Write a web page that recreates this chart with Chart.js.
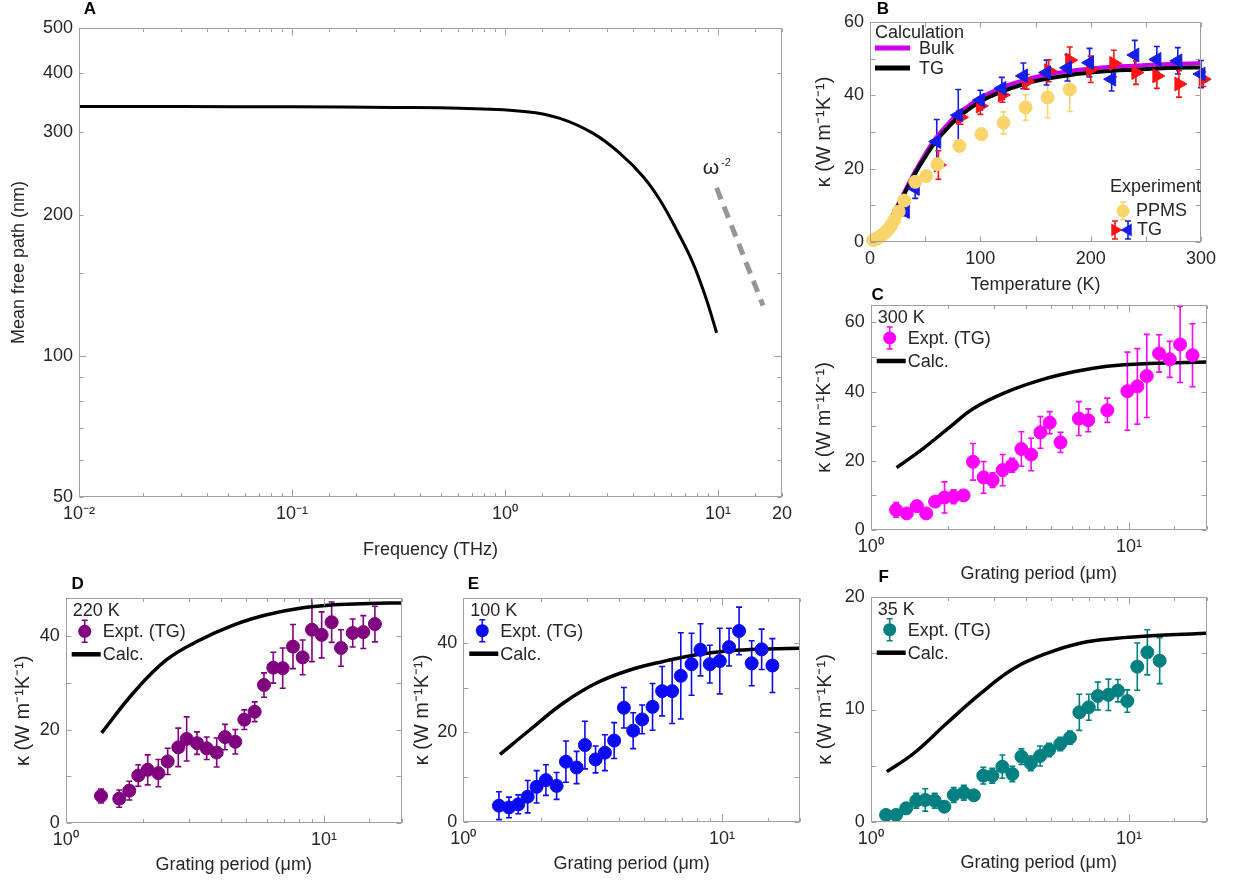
<!DOCTYPE html>
<html>
<head>
<meta charset="utf-8">
<script src="https://cdn.jsdelivr.net/npm/chart.js@4/dist/chart.umd.min.js"></script>
<style>
  body { margin: 0; background: #fff; width: 1233px; height: 886px; position: relative; overflow: hidden; }
  canvas { position: absolute; }
</style>
</head>
<body>
<canvas id="pA"></canvas>
<canvas id="pB"></canvas>
<canvas id="pC"></canvas>
<canvas id="pD"></canvas>
<canvas id="pE"></canvas>
<canvas id="pF"></canvas>
<script>
// ---- Panel A: mean free path vs frequency
const freqA = [0.01, 0.03, 0.1, 0.3, 0.615, 1.264, 1.813, 2.598, 3.467, 4.461, 5.343, 6.401, 7.656, 8.85, 9.86];
const mfpA  = [340, 340, 339.5, 338.5, 337, 331.6, 320.9, 298, 270.2, 240.9, 214.9, 185.5, 157.3, 131.5, 112];
const slopeFreq = [9.86, 16.3];
const slopeMfp  = [228, 128];

// ---- Panel B: kappa vs temperature
const tCalc = [20, 25, 30, 40, 50, 60, 70, 80, 100, 120, 140, 160, 180, 200, 220, 240, 260, 280, 300];
const kBulk = [7, 10, 13, 18.8, 24, 28.5, 32, 35, 39.3, 42.2, 44.2, 45.6, 46.6, 47.3, 47.8, 48.1, 48.4, 48.6, 48.8];
const kTGcalc = [6.8, 9.6, 12.5, 18.2, 23.2, 27.6, 31, 34, 38.3, 41.1, 43.1, 44.5, 45.5, 46.2, 46.7, 47.0, 47.3, 47.5, 47.6];
const tPPMS = [3, 5, 7, 9, 11, 13, 15, 17, 19, 22, 26, 31, 41, 51, 61, 81, 101, 121, 141, 161, 181];
const kPPMS = [0.5, 0.8, 1.1, 1.5, 1.9, 2.4, 3.0, 3.6, 4.5, 6.0, 8.3, 11.3, 16.4, 18.0, 21.2, 26.2, 29.4, 32.5, 36.7, 39.4, 41.6];
const ePPMS = [0.2, 0.2, 0.2, 0.2, 0.2, 0.2, 0.2, 0.2, 0.2, 0.3, 0.4, 0.5, 0.7, 0.5, 1.0, 0.5, 1.6, 3.0, 3.5, 5.5, 6.0];
const tBlue = [32, 41, 60.5, 80, 100, 119.5, 139, 160, 179, 199, 219, 240, 260, 279, 300];
const kBlue = [8.3, 14.6, 27.4, 34.6, 38.7, 41.9, 45.3, 46.2, 47.5, 48.9, 44.4, 51, 49.8, 49.4, 45.8];
const eBlue = [1.1, 2.7, 6, 7, 2.7, 3, 3.5, 3.4, 3.6, 3.9, 3.2, 4, 3.5, 3.6, 3.7];
const tRed = [62, 82, 100, 120, 142, 162, 181, 200, 221, 241, 260, 280, 302];
const kRed = [21, 34, 37.1, 40.1, 43.7, 46.7, 49.6, 47.1, 48.7, 46.2, 45.3, 43.1, 44.4];
const eRed = [3.9, 1.9, 2.3, 2, 2, 3, 3.6, 3.6, 3.6, 3.2, 3.4, 3.6, 2];

// ---- Panels C-F: kappa vs grating period
const xC = [1.254, 1.379, 1.509, 1.640, 1.776, 1.931, 2.093, 2.289, 2.489, 2.736, 2.965, 3.243, 3.526, 3.832, 4.180, 4.541, 4.935, 5.431, 6.396, 6.957, 8.245, 9.86, 10.78, 11.72, 13.08, 14.39, 15.78, 17.62];
const yC = [5.8, 4.8, 6.9, 4.8, 8.2, 9.4, 9.6, 10.0, 19.7, 15.2, 14.4, 17.3, 18.7, 23.4, 21.8, 28.2, 31.0, 25.3, 32.2, 31.7, 34.6, 40.1, 41.5, 44.5, 51.0, 49.3, 53.6, 50.5];
const eC = [2.1, 0.5, 0.5, 0.5, 0.5, 4.5, 2.0, 0.5, 5.3, 4.6, 2.1, 4.5, 2.0, 5.0, 4.7, 4.6, 3.2, 2.9, 4.9, 3.3, 3.5, 11.3, 10.9, 12.0, 5.4, 5.2, 11.0, 9.1];
const calcXC = [1.26, 1.6, 2.03, 2.5, 3.37, 4.54, 6.12, 8.25, 12, 20];
const calcYC = [18, 23.6, 29.8, 35.1, 39.9, 43.3, 45.7, 47.3, 48.1, 48.5];

const xD = [1.370, 1.612, 1.763, 1.910, 2.077, 2.284, 2.483, 2.729, 2.940, 3.224, 3.515, 3.843, 4.138, 4.536, 4.916, 5.392, 5.858, 6.364, 6.921, 7.586, 8.27, 8.986, 9.797, 10.71, 11.64, 12.92, 14.2, 15.75];
const yD = [5.83, 5.26, 6.97, 10.2, 11.4, 10.7, 13.2, 16.2, 18.0, 17.1, 16.0, 15.1, 18.4, 17.4, 22.1, 23.8, 29.5, 33.2, 33.1, 37.7, 35.4, 41.3, 40.2, 42.9, 37.4, 40.6, 40.8, 42.5];
const eD = [1.5, 1.85, 2.0, 2.3, 3.2, 2.9, 2.8, 4.1, 4.7, 2.4, 2.4, 3.1, 2.7, 2.6, 2.1, 2.1, 2.6, 3.3, 4.3, 4.7, 3.7, 6.8, 4.9, 4.3, 3.9, 3.0, 3.5, 3.8];
const calcXD = [1.378, 1.827, 2.46, 3.31, 4.46, 6.0, 8.07, 10.9, 15, 20];
const calcYD = [19.3, 27.8, 34.9, 39.1, 42.3, 44.5, 45.9, 46.6, 46.9, 47];

const xE = [1.373, 1.501, 1.631, 1.773, 1.920, 2.086, 2.294, 2.492, 2.741, 2.951, 3.245, 3.525, 3.828, 4.174, 4.533, 4.910, 5.386, 5.866, 6.412, 6.925, 7.619, 8.25, 8.966, 9.797, 10.64, 11.63, 13.01, 14.22, 15.65];
const yE = [3.7, 3.3, 4.0, 5.7, 7.9, 9.4, 8.1, 13.5, 12.2, 17.2, 14.0, 15.5, 18.2, 25.5, 20.4, 22.9, 25.7, 29.2, 29.2, 32.6, 35.2, 38.4, 35.2, 35.9, 39.0, 42.6, 35.4, 38.5, 34.9];
const eE = [3.1, 2.3, 2.1, 3.6, 3.6, 3.4, 3.0, 4.6, 3.6, 5.3, 3.0, 4.0, 4.0, 4.5, 4.0, 3.2, 5.2, 5.5, 7.2, 9.6, 6.9, 5.8, 4.2, 7.3, 4.2, 5.3, 5.0, 4.5, 6.0];
const calcXE = [1.386, 1.81, 2.43, 3.27, 4.40, 5.92, 7.96, 10.7, 15, 20];
const calcYE = [15.1, 20.6, 26.5, 31.0, 33.9, 35.8, 37.3, 38.2, 38.6, 38.75];

const xF = [1.147, 1.254, 1.372, 1.501, 1.627, 1.769, 1.929, 2.097, 2.293, 2.508, 2.728, 2.957, 3.234, 3.537, 3.834, 4.168, 4.529, 4.909, 5.42, 5.91, 6.425, 6.989, 7.575, 8.329, 9.06, 9.85, 10.77, 11.78, 13.15];
const yF = [0.65, 0.65, 1.24, 1.92, 1.98, 1.92, 1.38, 2.42, 2.63, 2.39, 4.13, 4.13, 4.93, 4.28, 5.82, 5.23, 5.88, 6.41, 6.94, 7.5, 9.75, 10.2, 11.2, 11.3, 11.67, 10.75, 13.8, 15.07, 14.33];
const eF = [0.1, 0.1, 0.47, 0.66, 0.99, 0.66, 0.35, 0.65, 0.66, 0.44, 0.74, 0.66, 1.03, 0.69, 0.69, 0.65, 0.89, 0.59, 0.59, 0.58, 1.6, 1.15, 1.23, 1.39, 0.99, 0.99, 2.1, 2.0, 2.04];
const calcXF = [1.154, 1.465, 1.975, 2.66, 3.59, 4.84, 6.52, 8.79, 13.76, 20];
const calcYF = [4.49, 6.1, 8.8, 11.4, 13.65, 15.0, 15.9, 16.3, 16.6, 16.75];

// tick labels
const freqLabels = [[0.01, '10⁻²'], [0.1, '10⁻¹'], [1, '10⁰'], [10, '10¹'], [20, '20']];
const mfpLabels = [[50, '50'], [100, '100'], [200, '200'], [300, '300'], [400, '400'], [500, '500']];
const periodLabels = [[1, '10⁰'], [10, '10¹']];

const FONT = '"Liberation Sans", Arial, sans-serif';
const TXT = '#262626';
const AXIS = '#a0a0a0';
const KAPPA = 'κ (W m⁻¹K⁻¹)';
const PERIOD = 'Grating period (μm)';

Chart.defaults.font.family = FONT;
Chart.defaults.font.size = 18;
Chart.defaults.color = TXT;

const pts = (xs, ys) => xs.map((v, i) => ({ x: v, y: ys[i] }));

function fromList(list) {
  return v => {
    for (const [k, s] of list) if (Math.abs(v - k) < k * 1e-6) return s;
    return '';
  };
}

function isPow10(v) {
  const l = Math.log10(v);
  return Math.abs(l - Math.round(l)) < 1e-6;
}

function markers(xs, ys, errs, color, style, rot) {
  return {
    data: pts(xs, ys), errs: errs,
    borderColor: color, backgroundColor: color,
    pointBackgroundColor: color, pointBorderColor: color,
    pointStyle: style || 'circle', pointRotation: rot || 0,
    pointRadius: style === 'triangle' ? 8 : 6.5, pointBorderWidth: 1,
    showLine: false, clip: false
  };
}

// smooth calculated curves go through the line controller
function curve(xs, ys, color, width, dash) {
  return {
    type: 'line',
    data: pts(xs, ys), borderColor: color, borderWidth: width, borderDash: dash || [],
    pointRadius: 0, tension: 0.4, fill: false
  };
}

function errGlyph(ctx, x, y, col, shape, h) {
  ctx.strokeStyle = col; ctx.lineWidth = 1.6;
  ctx.beginPath();
  ctx.moveTo(x, y - h); ctx.lineTo(x, y + h);
  ctx.moveTo(x - 3, y - h); ctx.lineTo(x + 3, y - h);
  ctx.moveTo(x - 3, y + h); ctx.lineTo(x + 3, y + h);
  ctx.stroke();
  ctx.fillStyle = col;
  ctx.beginPath();
  if (shape === 'circle') {
    ctx.arc(x, y, 6.5, 0, 2 * Math.PI);
  } else {
    const d = shape === 'right' ? 1 : -1, r = 7.5;
    ctx.moveTo(x + d * r, y);
    ctx.lineTo(x - d * r / 2, y - r * 0.866);
    ctx.lineTo(x - d * r / 2, y + r * 0.866);
    ctx.closePath();
  }
  ctx.fill();
}

function seg(ctx, x1, x2, y, col, w) {
  ctx.strokeStyle = col; ctx.lineWidth = w;
  ctx.beginPath(); ctx.moveTo(x1, y); ctx.lineTo(x2, y); ctx.stroke();
}

function tgLegend(label, color) {
  return (ctx, chart) => {
    const a = chart.chartArea;
    ctx.font = '18px ' + FONT; ctx.fillStyle = TXT;
    ctx.textBaseline = 'middle'; ctx.textAlign = 'left';
    ctx.fillText(label, a.left + 7, a.top + 13);
    errGlyph(ctx, a.left + 19, a.top + 33, color, 'circle', 11);
    ctx.fillStyle = TXT;
    ctx.fillText('Expt. (TG)', a.left + 37, a.top + 34);
    seg(ctx, a.left + 6, a.left + 35, a.top + 56, '#000', 4.5);
    ctx.fillText('Calc.', a.left + 37, a.top + 57);
  };
}

const panels = {};

const framePlugin = {
  id: 'frame',
  beforeDatasetsDraw(chart) {
    const { ctx, chartArea: a, scales: { x, y } } = chart;
    ctx.save();
    ctx.beginPath();
    ctx.rect(a.left - 20, a.top, a.right - a.left + 40, a.bottom - a.top);
    ctx.clip();
    chart.data.datasets.forEach(ds => {
      if (!ds.errs) return;
      ctx.strokeStyle = ds.borderColor; ctx.lineWidth = 1.6;
      ds.data.forEach((p, i) => {
        const e = ds.errs[i];
        const px = x.getPixelForValue(p.x);
        const y1 = y.getPixelForValue(p.y - e), y2 = y.getPixelForValue(p.y + e);
        ctx.beginPath();
        ctx.moveTo(px, y1); ctx.lineTo(px, y2);
        ctx.moveTo(px - 3, y1); ctx.lineTo(px + 3, y1);
        ctx.moveTo(px - 3, y2); ctx.lineTo(px + 3, y2);
        ctx.stroke();
      });
    });
    ctx.restore();
  },
  afterDraw(chart) {
    const { ctx, chartArea: a, scales: { x, y } } = chart;
    const p = panels[chart.canvas.id];
    ctx.save();
    // axes box
    const l = Math.round(a.left) + 0.5, t = Math.round(a.top) + 0.5;
    const r = Math.round(a.right) - 0.5, b = Math.round(a.bottom) - 0.5;
    ctx.strokeStyle = AXIS; ctx.lineWidth = 1;
    ctx.strokeRect(l, t, r - l, b - t);
    // inward ticks on all four sides
    ctx.beginPath();
    x.ticks.forEach(tk => {
      const len = x.type === 'logarithmic' ? (isPow10(tk.value) ? 7 : 3.5) : 5;
      const px = Math.round(x.getPixelForValue(tk.value)) + 0.5;
      ctx.moveTo(px, b); ctx.lineTo(px, b - len);
      ctx.moveTo(px, t); ctx.lineTo(px, t + len);
    });
    y.ticks.forEach(tk => {
      const len = y.type === 'logarithmic' ? (isPow10(tk.value) ? 7 : 4) : 5;
      const py = Math.round(y.getPixelForValue(tk.value)) + 0.5;
      ctx.moveTo(l, py); ctx.lineTo(l + len, py);
      ctx.moveTo(r, py); ctx.lineTo(r - len, py);
    });
    ctx.stroke();
    if (p.extra) p.extra(ctx, chart);
    // panel letter
    ctx.font = 'bold 17px ' + FONT; ctx.fillStyle = '#000';
    ctx.textAlign = 'center'; ctx.textBaseline = 'middle';
    ctx.fillText(p.letter, a.left + p.letterAt[0], a.top + p.letterAt[1]);
    ctx.restore();
  }
};

function makePanel(p) {
  panels[p.id] = p;
  const cv = document.getElementById(p.id);
  const [L, T, R, B] = p.area;
  const ySize = p.yTitleSize || 18;
  const cx = Math.round(p.yTitleX - ySize * 0.6), cy = p.top;
  const cw = Math.round(R - cx + p.padRight);
  const ch = Math.round(p.xTitleY + 10.8 - cy);
  cv.width = cw; cv.height = ch;
  cv.style.left = cx + 'px'; cv.style.top = cy + 'px';
  const yW = L - cx, xH = cy + ch - B;
  const axis = (o, fit) => Object.assign({
    grid: { display: false, drawTicks: false },
    border: { display: false },
    afterFit: fit
  }, o);
  new Chart(cv, {
    type: 'scatter',
    data: { datasets: p.datasets },
    options: {
      responsive: false, animation: false, events: [],
      layout: { padding: { left: 0, top: T - cy, right: cx + cw - R, bottom: 0 } },
      plugins: { legend: { display: false }, tooltip: { enabled: false } },
      scales: {
        x: axis(Object.assign({
          title: { display: true, text: p.xTitle, padding: 0, font: { size: 18 } }
        }, p.x), s => { s.height = xH; }),
        y: axis(Object.assign({
          title: { display: true, text: p.yTitle, padding: 0, font: { size: ySize } }
        }, p.y), s => { s.width = yW; })
      }
    },
    plugins: [framePlugin]
  });
}

const tickX = cb => ({ autoSkip: false, maxRotation: 0, padding: 6, callback: cb });
const tickY = (cb, step) => ({ autoSkip: false, padding: 6, callback: cb, stepSize: step, includeBounds: false });

// A
makePanel({
  id: 'pA', letter: 'A', letterAt: [11, -19],
  area: [79, 28, 782, 497], yTitleX: 19, xTitleY: 550, top: 0, padRight: 22,
  xTitle: 'Frequency (THz)', yTitle: 'Mean free path (nm)',
  x: { type: 'logarithmic', min: 0.01, max: 20, ticks: tickX(fromList(freqLabels)) },
  y: { type: 'logarithmic', min: 50, max: 500, ticks: tickY(fromList(mfpLabels)) },
  datasets: [
    curve(freqA, mfpA, '#000', 3),
    curve(slopeFreq, slopeMfp, 'rgb(150,150,150)', 5, [12, 8])
  ],
  extra(ctx, chart) {
    const { x, y } = chart.scales;
    ctx.fillStyle = TXT; ctx.textAlign = 'left'; ctx.textBaseline = 'alphabetic';
    ctx.font = '21px ' + FONT;
    ctx.fillText('ω', x.getPixelForValue(8.5), y.getPixelForValue(244));
    ctx.font = '11px ' + FONT;
    ctx.fillText('-2', x.getPixelForValue(10.35), y.getPixelForValue(254));
  }
});

// B
const YELLOW = 'rgb(248,212,107)', RED = 'rgb(250,20,20)', BLUE = 'rgb(20,30,230)', BULK = 'rgb(204,0,238)';
makePanel({
  id: 'pB', letter: 'B', letterAt: [13, -13],
  area: [870, 22, 1201, 242], yTitleX: 824, yTitleSize: 20, xTitleY: 285, top: 0, padRight: 30,
  xTitle: 'Temperature (K)', yTitle: KAPPA,
  x: { type: 'linear', min: 0, max: 300, ticks: Object.assign(tickX(v => v % 100 === 0 ? String(v) : ''), { stepSize: 50 }) },
  y: { type: 'linear', min: 0, max: 60, ticks: tickY(v => v % 20 === 0 ? String(v) : '', 10) },
  datasets: [
    markers(tPPMS, kPPMS, ePPMS, YELLOW),
    markers(tBlue, kBlue, eBlue, BLUE, 'triangle', -90),
    markers(tRed, kRed, eRed, RED, 'triangle', 90),
    curve(tCalc, kTGcalc, '#000', 4),
    curve(tCalc, kBulk, BULK, 4)
  ],
  extra(ctx, chart) {
    const a = chart.chartArea;
    ctx.font = '18px ' + FONT; ctx.fillStyle = TXT;
    ctx.textBaseline = 'middle'; ctx.textAlign = 'left';
    ctx.fillText('Calculation', a.left + 5, a.top + 11);
    seg(ctx, a.left + 5, a.left + 40, a.top + 26, BULK, 5);
    ctx.fillText('Bulk', a.left + 49, a.top + 27);
    seg(ctx, a.left + 5, a.left + 40, a.top + 46, '#000', 5);
    ctx.fillText('TG', a.left + 49, a.top + 47);
    ctx.fillText('Experiment', a.right - 91, a.bottom - 55);
    errGlyph(ctx, a.right - 78, a.bottom - 31, YELLOW, 'circle', 9);
    ctx.fillStyle = TXT;
    ctx.fillText('PPMS', a.right - 65, a.bottom - 31);
    errGlyph(ctx, a.right - 86, a.bottom - 12, RED, 'right', 9);
    errGlyph(ctx, a.right - 73, a.bottom - 12, BLUE, 'left', 9);
    ctx.fillStyle = TXT;
    ctx.fillText('TG', a.right - 64, a.bottom - 12);
  }
});

// C - F
const periodX = { type: 'logarithmic', min: 1, max: 20, ticks: tickX(fromList(periodLabels)) };
const linY = (max, step, lab) => ({ type: 'linear', min: 0, max: max, ticks: tickY(v => v % lab === 0 ? String(v) : '', step) });

makePanel({
  id: 'pC', letter: 'C', letterAt: [7, -10],
  area: [870.7, 305, 1206.7, 530], yTitleX: 824, yTitleSize: 20, xTitleY: 574, top: 283, padRight: 24,
  xTitle: PERIOD, yTitle: KAPPA, x: periodX, y: linY(65, 10, 20),
  datasets: [markers(xC, yC, eC, 'rgb(255,0,255)'), curve(calcXC, calcYC, '#000', 3.5)],
  extra: tgLegend('300 K', 'rgb(255,0,255)')
});

makePanel({
  id: 'pD', letter: 'D', letterAt: [12, -14],
  area: [65.7, 598.3, 401.7, 823.3], yTitleX: 23, yTitleSize: 20, xTitleY: 865, top: 570, padRight: 12,
  xTitle: PERIOD, yTitle: KAPPA, x: periodX, y: linY(48, 10, 20),
  datasets: [markers(xD, yD, eD, 'rgb(128,0,128)'), curve(calcXD, calcYD, '#000', 3.5)],
  extra: tgLegend('220 K', 'rgb(128,0,128)')
});

makePanel({
  id: 'pE', letter: 'E', letterAt: [10, -13],
  area: [463.3, 597.7, 800, 822.3], yTitleX: 422, yTitleSize: 20, xTitleY: 864, top: 570, padRight: 12,
  xTitle: PERIOD, yTitle: KAPPA, x: periodX, y: linY(50, 10, 20),
  datasets: [markers(xE, yE, eE, 'rgb(10,10,245)'), curve(calcXE, calcYE, '#000', 3.5)],
  extra: tgLegend('100 K', 'rgb(10,10,245)')
});

makePanel({
  id: 'pF', letter: 'F', letterAt: [13, -19],
  area: [870.7, 596.7, 1206.7, 822.3], yTitleX: 825, yTitleSize: 20, xTitleY: 863, top: 570, padRight: 24,
  xTitle: PERIOD, yTitle: KAPPA, x: periodX, y: linY(20, 5, 10),
  datasets: [markers(xF, yF, eF, 'rgb(0,128,128)'), curve(calcXF, calcYF, '#000', 3.5)],
  extra: tgLegend('35 K', 'rgb(0,128,128)')
});
</script>
</body>
</html>
